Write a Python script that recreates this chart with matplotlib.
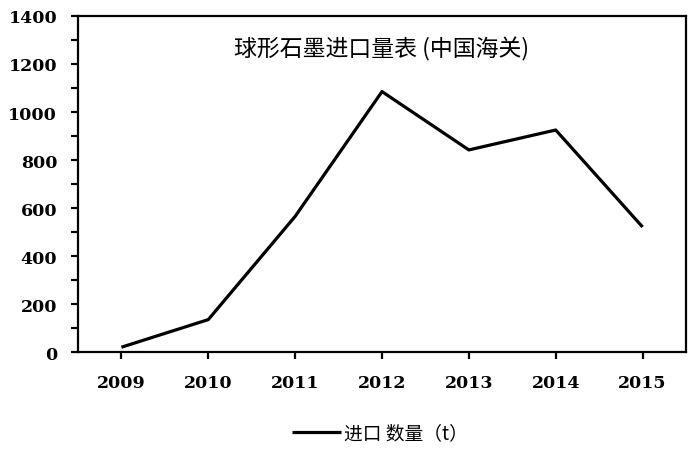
import matplotlib
matplotlib.use("Agg")
import matplotlib.pyplot as plt
from matplotlib.ticker import MultipleLocator

# Données
years = ["2009", "2010", "2011", "2012", "2013", "2014", "2015"]
import_qty = [20, 135, 565, 1085, 842, 925, 521]

title = "球形石墨进口量表 (中国海关)"
legend_label = "进口 数量（t）"

plt.rcParams["font.family"] = ["Noto Sans CJK SC", "DejaVu Sans"]

fig = plt.figure(figsize=(7, 4.52), dpi=100)
ax = fig.add_axes([0.1114, 0.219, 0.8686, 0.7434])

x = list(range(len(years)))
line, = ax.plot(x, import_qty, color="black", linewidth=2.3, solid_capstyle="butt")

ax.set_xlim(-0.5, len(years) - 0.5)
ax.set_ylim(0, 1400)
ax.set_xticks(x)
ax.set_xticklabels(years)
ax.yaxis.set_major_locator(MultipleLocator(200))
ax.yaxis.set_minor_locator(MultipleLocator(100))

for s in ax.spines.values():
    s.set_linewidth(1.6)

ax.tick_params(axis="both", which="both", direction="out", width=1.6, length=5)
for lab in ax.get_xticklabels() + ax.get_yticklabels():
    lab.set_fontfamily(["DejaVu Serif"])
    lab.set_fontweight("bold")
    lab.set_fontsize(12.5)
ax.tick_params(axis="x", pad=11)
ax.tick_params(axis="y", pad=10)

ax.text(0.5, 0.905, title, transform=ax.transAxes, ha="center", va="center",
        fontsize=16.5, family=["Noto Sans CJK SC", "DejaVu Sans"])

fig.legend([line], [legend_label], loc="center", bbox_to_anchor=(0.543, 0.04),
           frameon=False, fontsize=13.5, handlelength=2.6, handletextpad=0.15)

fig.savefig("out.png", dpi=100)
plt.close(fig)
